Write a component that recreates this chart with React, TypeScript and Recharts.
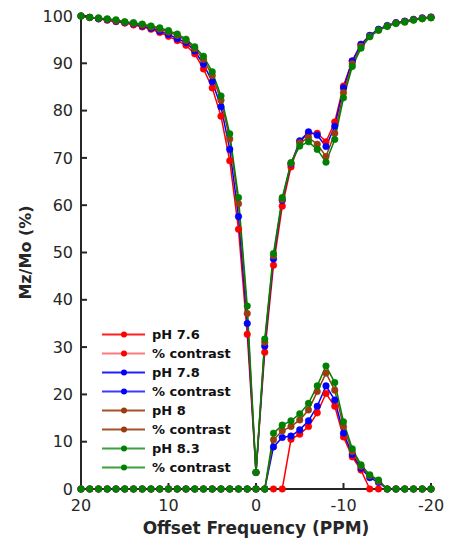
import { LineChart, Line, XAxis, YAxis } from "recharts";

// offset frequency, ppm (plotted 20 -> -20)
const offsets = [
  20, 19, 18, 17, 16, 15, 14, 13, 12, 11, 10, 9, 8, 7, 6, 5, 4, 3, 2, 1, 0,
  -1, -2, -3, -4, -5, -6, -7, -8, -9, -10, -11, -12, -13, -14, -15, -16, -17,
  -18, -19, -20,
];

// Mz/Mo (%) z-spectra
const mz76 = [
  100, 99.7, 99.4, 99.1, 98.8, 98.5, 98.1, 97.7, 97.2, 96.5, 95.7, 94.8, 93.8,
  92.0, 88.8, 84.8, 78.8, 69.4, 54.9, 32.7, 3.5, 28.9, 47.3, 59.8, 68.1, 73.4,
  75.2, 75.2, 73.4, 77.6, 85.2, 90.5, 94.0, 95.8, 97.1, 97.9, 98.5, 98.9, 99.2,
  99.5, 99.7,
];
const mz78 = [
  100, 99.7, 99.4, 99.2, 98.9, 98.6, 98.3, 97.9, 97.4, 96.8, 96.1, 95.2, 94.4,
  92.6, 89.8, 86.1, 80.8, 71.8, 57.6, 35.0, 3.5, 30.2, 48.6, 61.0, 68.7, 73.6,
  75.5, 74.8, 72.4, 76.7, 84.8, 90.5, 94.0, 95.9, 97.2, 98.0, 98.6, 98.9, 99.3,
  99.6, 99.8,
];
const mz80 = [
  100, 99.7, 99.5, 99.3, 99.0, 98.7, 98.4, 98.1, 97.7, 97.2, 96.6, 95.9, 94.8,
  93.1, 90.8, 87.4, 82.2, 74.0, 60.3, 37.1, 3.5, 31.0, 49.3, 61.2, 68.8, 73.2,
  74.3, 72.9, 70.3, 75.2, 83.8, 89.9, 93.6, 95.7, 97.0, 97.9, 98.5, 98.8, 99.2,
  99.5, 99.7,
];
const mz83 = [
  100, 99.7, 99.6, 99.4, 99.2, 98.8, 98.6, 98.3, 97.9, 97.5, 96.9, 96.2, 95.1,
  93.5, 91.5, 88.2, 83.1, 75.1, 61.6, 38.7, 3.5, 31.7, 49.8, 61.6, 69.0, 72.5,
  73.4, 71.8, 69.1, 73.9, 82.7, 89.3, 93.2, 95.6, 97.0, 97.8, 98.4, 98.7, 99.1,
  99.4, 99.6,
];

// % contrast
const con76 = [
  0, 0, 0, 0, 0, 0, 0, 0, 0, 0, 0, 0, 0, 0, 0, 0, 0, 0, 0, 0, 0, 0, 0, 0, 10.5,
  11.6, 13.2, 16.1, 20.2, 17.5, 11.0, 6.8, 4.0, 0, 0, 0, 0, 0, 0, 0, 0,
];
const con78 = [
  0, 0, 0, 0, 0, 0, 0, 0, 0, 0, 0, 0, 0, 0, 0, 0, 0, 0, 0, 0, 0, 0, 8.9, 10.9,
  11.2, 12.5, 14.4, 17.5, 21.8, 18.8, 11.8, 7.3, 4.4, 2.4, 1.4, 0, 0, 0, 0, 0,
  0,
];
const con80 = [
  0, 0, 0, 0, 0, 0, 0, 0, 0, 0, 0, 0, 0, 0, 0, 0, 0, 0, 0, 0, 0, 0, 10.4, 12.3,
  13.2, 14.6, 16.7, 20.6, 24.5, 20.9, 13.2, 7.9, 4.8, 2.8, 1.6, 0, 0, 0, 0, 0,
  0,
];
const con83 = [
  0, 0, 0, 0, 0, 0, 0, 0, 0, 0, 0, 0, 0, 0, 0, 0, 0, 0, 0, 0, 0, 0, 11.8, 13.5,
  14.4, 15.9, 18.1, 21.8, 26.0, 22.5, 14.2, 8.5, 5.1, 3.0, 1.9, 0, 0, 0, 0, 0,
  0,
];

const xTicks = [20, 10, 0, -10, -20];
const yTicks = [0, 10, 20, 30, 40, 50, 60, 70, 80, 90, 100];

const RED = "#ff0000";
const BLUE = "#0000ff";
const BROWN = "#993d10";
const GREEN = "#008000";

const series = [
  { key: "mz76", name: "pH 7.6", values: mz76, color: RED, legendLine: "#ff2020" },
  { key: "con76", name: "% contrast", values: con76, color: RED, legendLine: "#ff7a7a" },
  { key: "mz78", name: "pH 7.8", values: mz78, color: BLUE, legendLine: "#2020ff" },
  { key: "con78", name: "% contrast", values: con78, color: BLUE, legendLine: "#3a3aff" },
  { key: "mz80", name: "pH 8", values: mz80, color: BROWN, legendLine: "#a5532a" },
  { key: "con80", name: "% contrast", values: con80, color: BROWN, legendLine: "#a5532a" },
  { key: "mz83", name: "pH 8.3", values: mz83, color: GREEN, legendLine: "#3f9f3f" },
  { key: "con83", name: "% contrast", values: con83, color: GREEN, legendLine: "#3f9f3f" },
];

const data = offsets.map((x, i) => {
  const row: Record<string, number> = { x };
  series.forEach((s) => (row[s.key] = s.values[i]));
  return row;
});

const AXIS = "#262626";
const TICK_FONT = { fontFamily: "DejaVu Sans", fontSize: 16, fill: AXIS };

// legend drawn as an overlay so it doesn't take space from the plot
const LegendBox = () => (
  <div
    style={{
      position: "absolute",
      left: 100,
      top: 325,
      fontFamily: "DejaVu Sans",
      fontWeight: "bold",
      fontSize: 13,
      color: "#111",
      lineHeight: "19px",
    }}
  >
    {series.map((s) => (
      <div key={s.key} style={{ display: "flex", alignItems: "center", height: 19 }}>
        <svg width={52} height={19} style={{ display: "block" }}>
          <line x1={2} y1={9.5} x2={45} y2={9.5} stroke={s.legendLine} strokeWidth={2} />
          <circle cx={24} cy={9.5} r={3} fill={s.color} />
        </svg>
        <span>{s.name}</span>
      </div>
    ))}
  </div>
);

export default function App() {
  return (
    <div style={{ position: "absolute", left: 0, top: 0, width: 451, height: 540, background: "#fff" }}>
      <LineChart
        width={451}
        height={540}
        data={data}
        margin={{ top: 16, right: 20, bottom: 6, left: 20 }}
      >
        <XAxis
          dataKey="x"
          type="number"
          domain={[-20, 20]}
          reversed
          ticks={xTicks}
          interval={0}
          height={45}
          tickSize={-6}
          tickMargin={17}
          tick={TICK_FONT}
          axisLine={{ stroke: AXIS, strokeWidth: 2 }}
          tickLine={{ stroke: AXIS, strokeWidth: 2 }}
          label={{
            value: "Offset Frequency (PPM)",
            position: "insideBottom",
            offset: 0,
            style: { fontFamily: "DejaVu Sans", fontWeight: "bold", fontSize: 17, fill: AXIS },
          }}
        />
        <YAxis
          type="number"
          domain={[0, 100]}
          ticks={yTicks}
          interval={0}
          width={61}
          tickSize={-6}
          tickMargin={14}
          tick={TICK_FONT}
          axisLine={{ stroke: AXIS, strokeWidth: 2 }}
          tickLine={{ stroke: AXIS, strokeWidth: 2 }}
          label={{
            value: "Mz/Mo (%)",
            angle: -90,
            position: "insideLeft",
            offset: 5,
            style: {
              textAnchor: "middle",
              fontFamily: "DejaVu Sans",
              fontWeight: "bold",
              fontSize: 16,
              fill: AXIS,
            },
          }}
        />
        {series.map((s) => (
          <Line
            key={s.key}
            dataKey={s.key}
            name={s.name}
            stroke={s.color}
            strokeWidth={1.5}
            dot={{ r: 3.3, fill: s.color, stroke: s.color, strokeWidth: 0.5 }}
            activeDot={false}
            isAnimationActive={false}
          />
        ))}
      </LineChart>
      <LegendBox />
    </div>
  );
}
